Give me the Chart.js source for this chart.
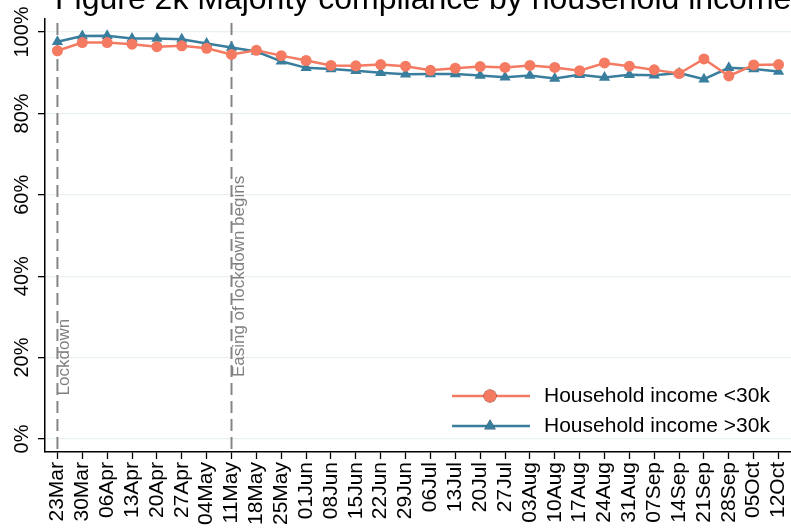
<!DOCTYPE html>
<html>
<head>
<meta charset="utf-8">
<script src="https://cdn.jsdelivr.net/npm/chart.js@4.4.1/dist/chart.umd.min.js"></script>
<style>
    html, body { margin: 0; padding: 0; background: #fff; }
    canvas { display: block; }
</style>
</head>
<body>
<canvas id="myChart" width="791" height="528"></canvas>
<script>
const weeks = ["23Mar", "30Mar", "06Apr", "13Apr", "20Apr", "27Apr", "04May", "11May", "18May", "25May",
    "01Jun", "08Jun", "15Jun", "22Jun", "29Jun", "06Jul", "13Jul", "20Jul", "27Jul", "03Aug",
    "10Aug", "17Aug", "24Aug", "31Aug", "07Sep", "14Sep", "21Sep", "28Sep", "05Oct", "12Oct"];

// share of respondents complying with the majority of rules (%)
const incomeUnder30k = [95.4, 97.4, 97.4, 97.0, 96.4, 96.6, 96.0, 94.5, 95.5, 94.2,
    93.0, 91.8, 91.7, 92.0, 91.6, 90.6, 91.1, 91.5, 91.3, 91.8,
    91.3, 90.5, 92.4, 91.6, 90.7, 89.8, 93.4, 89.2, 91.9, 92.0];
const incomeOver30k = [97.6, 99.0, 99.1, 98.4, 98.4, 98.2, 97.2, 96.2, 95.2, 92.8,
    91.2, 90.9, 90.5, 90.0, 89.6, 89.7, 89.7, 89.3, 88.9, 89.3,
    88.6, 89.5, 88.8, 89.5, 89.4, 89.9, 88.4, 91.2, 90.9, 90.3];

const yTicks = [0, 20, 40, 60, 80, 100];
const eventWeeks = ["23Mar", "11May"];
const eventNames = ["Lockdown", "Easing of lockdown begins"];

const titleText = "Figure 2k Majority compliance by household income";
const FONT = "'Liberation Sans', Arial, sans-serif";

// title, y labels, event lines and the legend are drawn by hand
const extras = {
    id: "extras",
    beforeDatasetsDraw(chart) {
        const { ctx, chartArea, scales: { x, y } } = chart;
        const textStart = [10.7, 15.2];
        ctx.save();
        eventWeeks.forEach((w, i) => {
            const px = x.getPixelForValue(weeks.indexOf(w));
            ctx.strokeStyle = "#858585";
            ctx.lineWidth = 2;
            ctx.setLineDash([12, 6]);
            ctx.beginPath();
            ctx.moveTo(px, chartArea.top + 4);
            ctx.lineTo(px, chartArea.bottom);
            ctx.stroke();

            ctx.save();
            ctx.translate(px + 12, y.getPixelForValue(textStart[i]));
            ctx.rotate(-Math.PI / 2);
            ctx.fillStyle = "#808080";
            ctx.font = "17px " + FONT;
            ctx.textAlign = "left";
            ctx.textBaseline = "alphabetic";
            ctx.fillText(eventNames[i], 0, 0);
            ctx.restore();
        });
        ctx.restore();
    },
    afterDraw(chart) {
        const { ctx, scales: { y } } = chart;
        ctx.save();

        // title, cut off at the top of the picture
        ctx.fillStyle = "#000";
        ctx.font = "32px " + FONT;
        ctx.textAlign = "left";
        ctx.textBaseline = "alphabetic";
        ctx.fillText(titleText, 55, 9);

        // vertical y tick labels
        ctx.font = "20px " + FONT;
        yTicks.forEach(v => {
            ctx.save();
            ctx.translate(28, y.getPixelForValue(v));
            ctx.rotate(-Math.PI / 2);
            ctx.textAlign = "center";
            ctx.fillText(v + "%", 0, 0);
            ctx.restore();
        });

        // legend
        const rows = [396, 426];
        chart.data.datasets.forEach((ds, i) => {
            const ly = rows[i];
            ctx.strokeStyle = ds.borderColor;
            ctx.lineWidth = ds.borderWidth;
            ctx.beginPath();
            ctx.moveTo(452, ly);
            ctx.lineTo(530, ly);
            ctx.stroke();
            Chart.helpers.drawPoint(ctx, {
                pointStyle: ds.pointStyle,
                radius: 6.5,
                rotation: 0,
                borderWidth: 0
            }, 490, ly);
            ctx.fillStyle = ds.borderColor;
            ctx.fill();
            ctx.fillStyle = "#000";
            ctx.font = "21px " + FONT;
            ctx.textAlign = "left";
            ctx.textBaseline = "middle";
            ctx.fillText(ds.label, 544, ly);
        });
        ctx.restore();
    }
};

const orange = "#F47A62";
const blue = "#3A7E9E";

new Chart(document.getElementById("myChart").getContext("2d"), {
    type: "line",
    data: {
        labels: weeks,
        datasets: [
            {
                label: "Household income <30k",
                data: incomeUnder30k,
                borderColor: orange,
                backgroundColor: orange,
                borderWidth: 2.5,
                pointStyle: "circle",
                pointRadius: 5.5,
                pointBorderWidth: 0,
                tension: 0
            },
            {
                label: "Household income >30k",
                data: incomeOver30k,
                borderColor: blue,
                backgroundColor: blue,
                borderWidth: 2.5,
                pointStyle: "triangle",
                pointRadius: 6.5,
                pointBorderWidth: 0,
                tension: 0
            }
        ]
    },
    options: {
        responsive: false,
        animation: false,
        layout: { autoPadding: false, padding: { top: 19, right: -3, left: 0, bottom: 0 } },
        plugins: {
            legend: { display: false },
            title: { display: false },
            tooltip: { enabled: false }
        },
        scales: {
            x: {
                offset: true,
                grid: {
                    offset: false,
                    drawOnChartArea: false,
                    drawTicks: true,
                    tickLength: 7,
                    tickColor: "#000",
                    tickWidth: 1.3
                },
                border: { color: "#000", width: 1.5 },
                ticks: {
                    autoSkip: false,
                    minRotation: 90,
                    maxRotation: 90,
                    padding: 3,
                    color: "#000",
                    font: { family: FONT, size: 21 }
                },
                afterFit: scale => {
                    scale.height = 76;
                    scale.paddingLeft = 0;
                    scale.paddingRight = 0;
                }
            },
            y: {
                min: -3.2,
                max: 103.2,
                afterBuildTicks: scale => { scale.ticks = yTicks.map(v => ({ value: v })); },
                grid: {
                    color: "#E9F1F3",
                    lineWidth: 1.3,
                    drawTicks: true,
                    tickLength: 7,
                    tickColor: "#000",
                    tickWidth: 1.3
                },
                border: { color: "#000", width: 1.5 },
                ticks: { display: false },
                afterFit: scale => {
                    scale.width = 45;
                    scale.paddingTop = 0;
                    scale.paddingBottom = 0;
                }
            }
        }
    },
    plugins: [extras]
});
</script>
</body>
</html>
